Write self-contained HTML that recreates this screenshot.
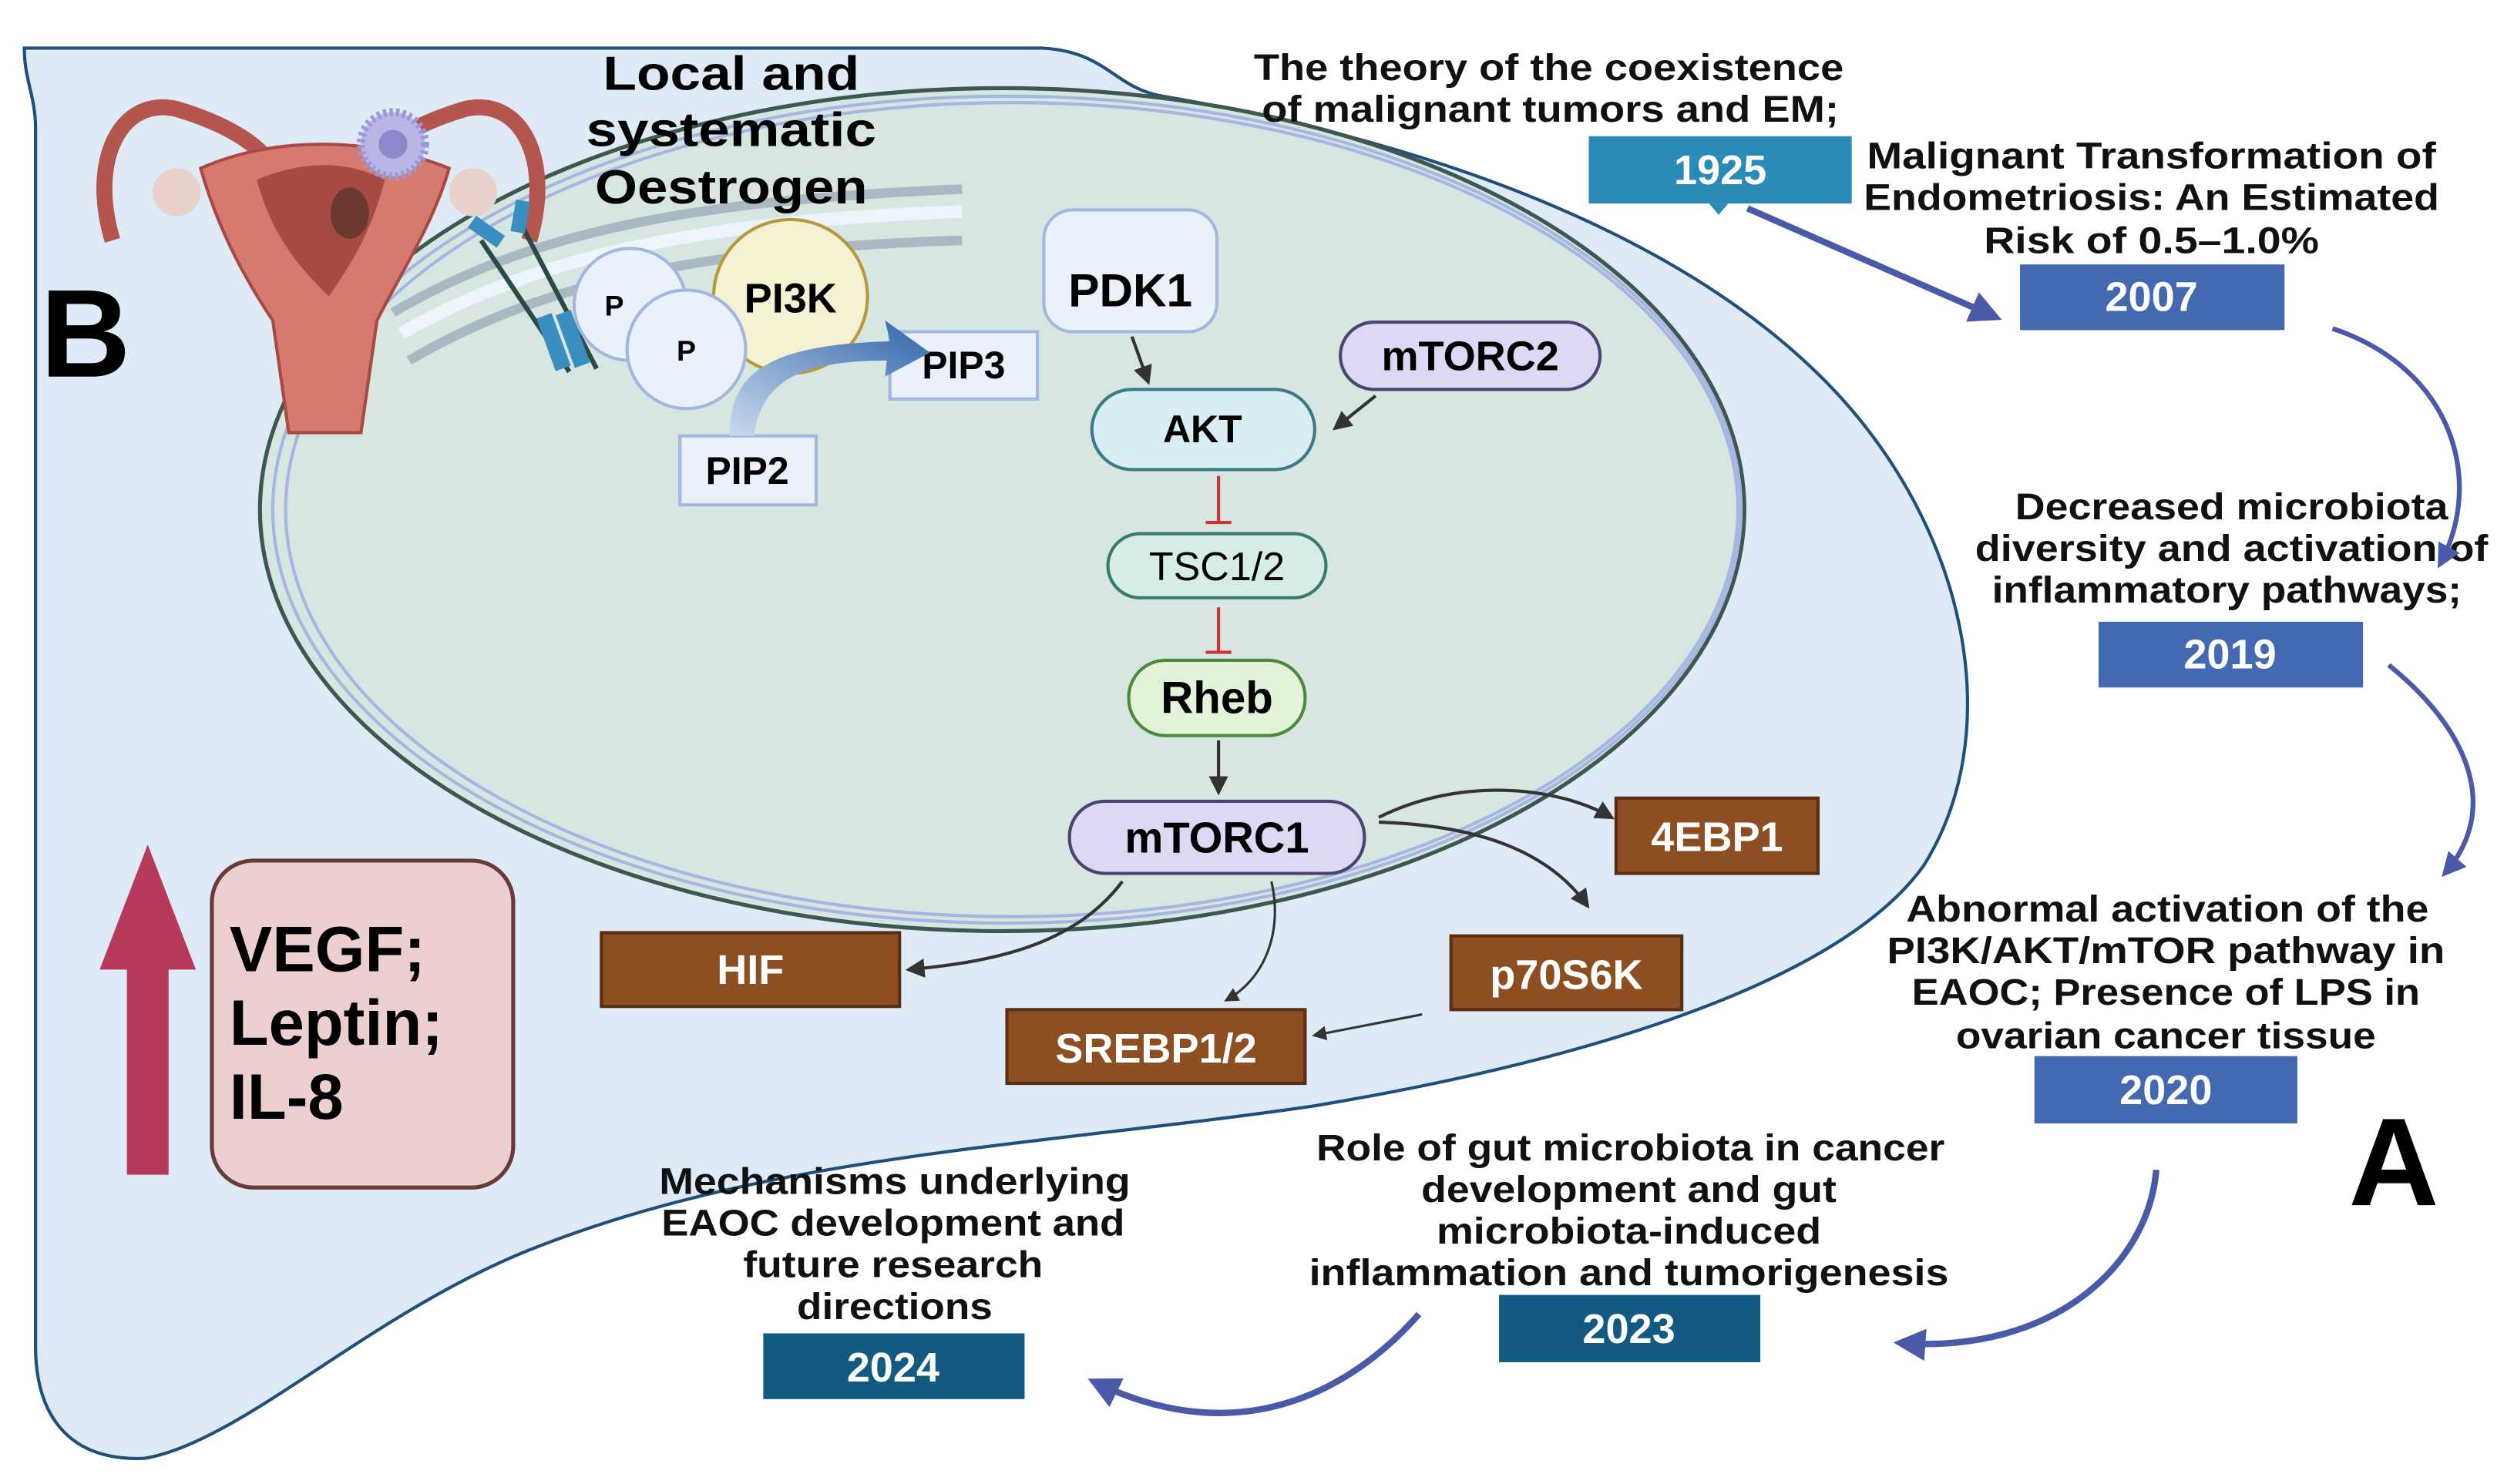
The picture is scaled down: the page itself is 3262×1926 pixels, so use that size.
<!DOCTYPE html>
<html><head><meta charset="utf-8"><style>
html,body{margin:0;padding:0;background:#fff;}
svg{display:block;}
text{font-family:"Liberation Sans",sans-serif;}
</style></head><body>
<svg width="3262" height="1926" viewBox="0 0 1568 926" xmlns="http://www.w3.org/2000/svg">
<defs>
<marker id="ab" viewBox="0 0 10 10" refX="8" refY="5" markerWidth="6" markerHeight="6" orient="auto"><path d="M0,0 L10,5 L0,10 z" fill="#333"/></marker>
<marker id="tb" viewBox="0 0 10 10" refX="8" refY="5" markerWidth="5" markerHeight="5" orient="auto"><path d="M0,0 L10,5 L0,10 z" fill="#4a5aa8"/></marker>
<linearGradient id="pg" x1="0" y1="1" x2="1" y2="0"><stop offset="0" stop-color="#c9d9ee"/><stop offset="1" stop-color="#2f64a8"/></linearGradient>
</defs>

<path d="M15,30 L650,30 C690,32 695,55 725,60 C900,90 1060,150 1150,250 C1230,340 1250,460 1200,540 C1150,610 1000,660 820,690 C650,715 480,720 330,780 C230,820 150,900 90,910 C40,912 22,880 22,840 L22,80 C22,60 15,50 15,30 Z" fill="#deebf7" stroke="#1f4f7a" stroke-width="2"/>

<ellipse cx="625" cy="318" rx="463" ry="263" fill="#d7e6e1" stroke="#3e5750" stroke-width="2.5"/>
<ellipse cx="628" cy="318" rx="458" ry="258" fill="none" stroke="#a6b5e2" stroke-width="2"/>
<ellipse cx="631" cy="318" rx="453" ry="254" fill="none" stroke="#a6b5e2" stroke-width="2"/>

<path d="M245,195 C330,145 430,125 600,118" fill="none" stroke="#aab8c4" stroke-width="6"/>
<path d="M250,208 C335,160 435,138 600,132" fill="none" stroke="#eef4fb" stroke-width="8"/>
<path d="M255,225 C340,175 440,155 600,150" fill="none" stroke="#aab8c4" stroke-width="6"/>

<g>
<path d="M70,150 C55,100 75,60 110,68 C150,80 165,95 170,105" fill="none" stroke="#b5564e" stroke-width="10"/>
<path d="M330,150 C345,100 325,60 290,68 C250,80 235,95 230,105" fill="none" stroke="#b5564e" stroke-width="10"/>
<path d="M125,105 C170,85 230,85 280,105 C270,140 250,170 235,200 L225,270 L180,270 L170,200 C150,170 135,140 125,105 Z" fill="#d67a70" stroke="#a84a44" stroke-width="2"/>
<path d="M160,112 C190,100 215,100 240,112 C230,150 215,170 205,185 C190,170 170,150 160,112 Z" fill="#a84a44"/>
<circle cx="110" cy="120" r="15" fill="#ead2cc"/>
<circle cx="295" cy="120" r="15" fill="#ead2cc"/>
<ellipse cx="218" cy="133" rx="12" ry="16" fill="#6a3a30"/>
<circle cx="245" cy="90" r="20" fill="#b9b6e6" stroke="#9a96d8" stroke-width="5" stroke-dasharray="2,2"/>
<circle cx="245" cy="90" r="9" fill="#8c88cc"/>
</g>

<g stroke="#2a4a48" stroke-width="3" fill="none">
<path d="M300,150 L355,232"/><path d="M325,140 L372,230"/>
</g>
<g fill="#3a8ec0">
<rect x="292" y="140" width="22" height="9" transform="rotate(35 303 145)"/>
<rect x="320" y="125" width="9" height="20" transform="rotate(10 324 135)"/>
<rect x="340" y="196" width="10" height="35" transform="rotate(-20 345 213)"/>
<rect x="352" y="194" width="10" height="35" transform="rotate(-20 357 211)"/>
</g>

<circle cx="493" cy="185" r="48" fill="#f5f1d3" stroke="#b8993a" stroke-width="2"/>
<text x="493" y="195" font-size="26" font-weight="bold" text-anchor="middle">PI3K</text>
<circle cx="393" cy="190" r="35" fill="#eaf1fb" stroke="#a3b6e0" stroke-width="2"/>
<text x="383" y="197" font-size="18" font-weight="bold" text-anchor="middle">P</text>
<circle cx="428" cy="218" r="37" fill="#eaf1fb" stroke="#a3b6e0" stroke-width="2"/>
<text x="428" y="225" font-size="18" font-weight="bold" text-anchor="middle">P</text>

<rect x="555" y="207" width="92" height="42" fill="#eaf1fb" stroke="#a3b6e0" stroke-width="2"/>
<text x="601" y="236" font-size="24" font-weight="bold" text-anchor="middle">PIP3</text>
<rect x="424" y="272" width="85" height="43" fill="#eaf1fb" stroke="#a3b6e0" stroke-width="2"/>
<text x="466" y="302" font-size="24" font-weight="bold" text-anchor="middle">PIP2</text>
<path d="M455,272 C455,235 475,215 555,213 L552,200 L580,220 L552,235 L553,225 C495,225 475,240 470,272 Z" fill="url(#pg)"/>

<g font-size="30" font-weight="bold" text-anchor="middle" lengthAdjust="spacingAndGlyphs">
<text x="456" y="56" textLength="160" lengthAdjust="spacingAndGlyphs">Local and</text>
<text x="456" y="91" textLength="181" lengthAdjust="spacingAndGlyphs">systematic</text>
<text x="456" y="127" textLength="170" lengthAdjust="spacingAndGlyphs">Oestrogen</text>
</g>
<text x="25" y="235" font-size="78" font-weight="bold">B</text>
<text x="1465" y="752" font-size="78" font-weight="bold">A</text>

<rect x="651" y="131" width="108" height="76" rx="18" fill="#eaf1fb" stroke="#a3b6e0" stroke-width="2"/>
<text x="705" y="191" font-size="29" font-weight="bold" text-anchor="middle">PDK1</text>
<rect x="681" y="243" width="139" height="50" rx="25" fill="#d9eef2" stroke="#3b7a86" stroke-width="2"/>
<text x="750" y="276" font-size="24" font-weight="bold" text-anchor="middle">AKT</text>
<rect x="836" y="201" width="162" height="42" rx="21" fill="#ddd8f3" stroke="#4a4470" stroke-width="2"/>
<text x="917" y="231" font-size="26" font-weight="bold" text-anchor="middle">mTORC2</text>
<rect x="691" y="333" width="136" height="40" rx="20" fill="#d6ece6" stroke="#3b7a6a" stroke-width="2"/>
<text x="759" y="362" font-size="25" text-anchor="middle">TSC1/2</text>
<rect x="704" y="412" width="110" height="47" rx="23" fill="#e3f3d9" stroke="#4a8a3a" stroke-width="2"/>
<text x="759" y="445" font-size="28" font-weight="bold" text-anchor="middle">Rheb</text>
<rect x="667" y="500" width="184" height="45" rx="22" fill="#ddd8f3" stroke="#4a4470" stroke-width="2"/>
<text x="759" y="532" font-size="27" font-weight="bold" text-anchor="middle">mTORC1</text>

<g fill="#8d4f22" stroke="#5a2e12" stroke-width="2">
<rect x="1008" y="498" width="126" height="47"/>
<rect x="375" y="582" width="186" height="46"/>
<rect x="905" y="584" width="144" height="46"/>
<rect x="628" y="630" width="186" height="46"/>
</g>
<g fill="#fff" font-size="26" font-weight="bold" text-anchor="middle">
<text x="1071" y="531">4EBP1</text>
<text x="468" y="614">HIF</text>
<text x="977" y="617">p70S6K</text>
<text x="721" y="663">SREBP1/2</text>
</g>

<g fill="none" stroke="#333" stroke-width="2">
<path d="M706,210 L716,238" marker-end="url(#ab)"/>
<path d="M858,247 L833,267" marker-end="url(#ab)"/>
<path d="M760,462 L760,494" marker-end="url(#ab)"/>
<path d="M860,510 C910,485 970,490 1005,510" marker-end="url(#ab)"/>
<path d="M860,513 C920,515 965,530 990,565" marker-end="url(#ab)"/>
<path d="M700,550 C670,590 620,600 567,605" marker-end="url(#ab)"/>
<path d="M793,550 C800,580 790,610 765,624" stroke-width="1.5" marker-end="url(#ab)"/>
<path d="M887,633 L820,646" stroke-width="1.5" marker-end="url(#ab)"/>
</g>
<g stroke="#c33" stroke-width="2">
<path d="M760,297 L760,326"/><path d="M752,326 L768,326"/>
<path d="M760,379 L760,407"/><path d="M752,407 L768,407"/>
</g>

<rect x="132" y="537" width="188" height="204" rx="26" fill="#ecd0cf" stroke="#6a3a3a" stroke-width="2.5"/>
<text font-size="40" font-weight="bold"><tspan x="143" y="606">VEGF;</tspan><tspan x="143" y="652">Leptin;</tspan><tspan x="143" y="698">IL-8</tspan></text>
<path d="M79,733 L79,605 L62,605 L92,527 L122,605 L105,605 L105,733 Z" fill="#b83a5a"/>

<g fill="#111" font-size="23" font-weight="bold" text-anchor="middle">
<text x="966" y="50" textLength="368" lengthAdjust="spacingAndGlyphs">The theory of the coexistence</text>
<text x="967" y="76" textLength="360" lengthAdjust="spacingAndGlyphs">of malignant tumors and EM;</text>
<text x="1342" y="105" textLength="355" lengthAdjust="spacingAndGlyphs">Malignant Transformation of</text>
<text x="1342" y="131" textLength="359" lengthAdjust="spacingAndGlyphs">Endometriosis: An Estimated</text>
<text x="1342" y="158" textLength="209" lengthAdjust="spacingAndGlyphs">Risk of 0.5–1.0%</text>
<text x="1392" y="324" textLength="270" lengthAdjust="spacingAndGlyphs">Decreased microbiota</text>
<text x="1392" y="350" textLength="320" lengthAdjust="spacingAndGlyphs">diversity and activation of</text>
<text x="1389" y="376" textLength="293" lengthAdjust="spacingAndGlyphs">inflammatory pathways;</text>
<text x="1352" y="575" textLength="326" lengthAdjust="spacingAndGlyphs">Abnormal activation of the</text>
<text x="1351" y="601" textLength="348" lengthAdjust="spacingAndGlyphs">PI3K/AKT/mTOR pathway in</text>
<text x="1351" y="627" textLength="317" lengthAdjust="spacingAndGlyphs">EAOC; Presence of LPS in</text>
<text x="1351" y="654" textLength="262" lengthAdjust="spacingAndGlyphs">ovarian cancer tissue</text>
<text x="1017" y="724" textLength="392" lengthAdjust="spacingAndGlyphs">Role of gut microbiota in cancer</text>
<text x="1016" y="750" textLength="259" lengthAdjust="spacingAndGlyphs">development and gut</text>
<text x="1016" y="776" textLength="240" lengthAdjust="spacingAndGlyphs">microbiota-induced</text>
<text x="1016" y="802" textLength="399" lengthAdjust="spacingAndGlyphs">inflammation and tumorigenesis</text>
<text x="558" y="745" textLength="294" lengthAdjust="spacingAndGlyphs">Mechanisms underlying</text>
<text x="557" y="771" textLength="289" lengthAdjust="spacingAndGlyphs">EAOC development and</text>
<text x="557" y="797" textLength="187" lengthAdjust="spacingAndGlyphs">future research</text>
<text x="558" y="823" textLength="122" lengthAdjust="spacingAndGlyphs">directions</text>
</g>
<rect x="991" y="85" width="164" height="42" fill="#2a8ab8"/>
<path d="M1066,127 L1072,134 L1078,127 Z" fill="#2a8ab8"/>
<rect x="1260" y="165" width="165" height="41" fill="#4369b0"/>
<rect x="1309" y="388" width="165" height="41" fill="#4369b0"/>
<rect x="1269" y="659" width="164" height="42" fill="#4369b0"/>
<rect x="935" y="808" width="163" height="42" fill="#135a82"/>
<rect x="476" y="832" width="163" height="41" fill="#135a82"/>
<g fill="#fff" font-size="26" font-weight="bold" text-anchor="middle">
<text x="1073" y="115">1925</text>
<text x="1342" y="194">2007</text>
<text x="1391" y="417">2019</text>
<text x="1351" y="689">2020</text>
<text x="1016" y="838">2023</text>
<text x="557" y="862">2024</text>
</g>
<g fill="none" stroke="#4a5aa8" stroke-width="3">
<path d="M1090,130 L1245,198" stroke-width="4" marker-end="url(#tb)"/>
<path d="M1455,205 C1530,230 1550,300 1522,352" marker-end="url(#tb)"/>
<path d="M1490,415 C1540,455 1560,505 1525,545" marker-end="url(#tb)"/>
<path d="M1345,730 C1340,790 1280,845 1185,838" stroke-width="4" marker-end="url(#tb)"/>
<path d="M885,820 C850,860 780,910 682,862" stroke-width="4" marker-end="url(#tb)"/>
</g>
</svg>
</body></html>
